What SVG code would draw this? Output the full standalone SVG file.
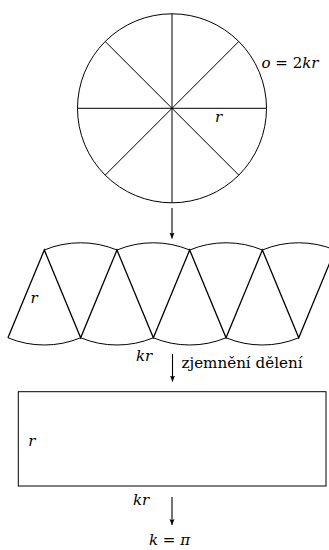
<svg xmlns="http://www.w3.org/2000/svg" width="329" height="550" viewBox="0 0 329 550">
<style>
.ln{fill:none;stroke:#000;stroke-width:1}
.zz{fill:none;stroke:#000;stroke-width:1.3;stroke-linejoin:miter}
.t{font-family:"DejaVu Serif","Liberation Serif",serif;font-size:15px;fill:#000}
.m{font-style:italic}
.ar{fill:none;stroke:#000;stroke-width:1.1;marker-end:url(#ah)}
</style>
<defs>
<marker id="ah" viewBox="0 0 6 6" refX="6" refY="3" markerWidth="6" markerHeight="6" orient="auto" markerUnits="userSpaceOnUse">
<path d="M0,0.4 L6,3 L0,5.6 L1.2,3 z" fill="#000"/>
</marker>
</defs>
<rect width="329" height="550" fill="#fff"/>
<g id="circle">
<circle class="ln" cx="172" cy="108.3" r="94.5"/>
<path class="ln" d="M77.5,108.3 H266.5 M172,13.8 V202.8 M105.18,41.48 L238.82,175.12 M238.82,41.48 L105.18,175.12"/>
<text class="t" x="261.5" y="67.5"><tspan class="m">o</tspan> = 2<tspan class="m">kr</tspan></text>
<text class="t m" x="215" y="121.5">r</text>
</g>
<g id="sectors">
<path class="ln" d="M44.3,250 A95,95 0 0 1 116.97,250 A95,95 0 0 1 189.67,250 A95,95 0 0 1 262.37,250 A95,95 0 0 1 335.07,250"/>
<path class="ln" d="M7.95,337.77 A95,95 0 0 0 80.65,337.77 A95,95 0 0 0 153.35,337.77 A95,95 0 0 0 226.05,337.77 A95,95 0 0 0 298.75,337.77"/>
<polyline class="zz" points="7.95,337.77 44.3,250 80.65,337.77 116.97,250 153.35,337.77 189.67,250 226.05,337.77 262.37,250 298.75,337.77 335.07,250"/>
<text class="t m" x="30.5" y="303">r</text>
<text class="t m" x="136" y="360.7">kr</text>
</g>
<g id="rectangle">
<rect class="ln" x="18.3" y="391.7" width="307.7" height="94.3"/>
<text class="t m" x="28.3" y="446">r</text>
<text class="t m" x="133" y="505">kr</text>
</g>
<g id="connectors">
<line class="ar" x1="172" y1="208" x2="172" y2="238.5"/>
<line class="ar" x1="172.5" y1="354" x2="172.5" y2="381.5"/>
<line class="ar" x1="172" y1="497" x2="172" y2="525"/>
</g>
<g id="labels">
<text class="t" x="181.5" y="367.5" textLength="121" lengthAdjust="spacingAndGlyphs">zjemnění dělení</text>
<text class="t" x="149" y="545"><tspan class="m">k</tspan> = <tspan class="m">π</tspan></text>
</g>
</svg>
